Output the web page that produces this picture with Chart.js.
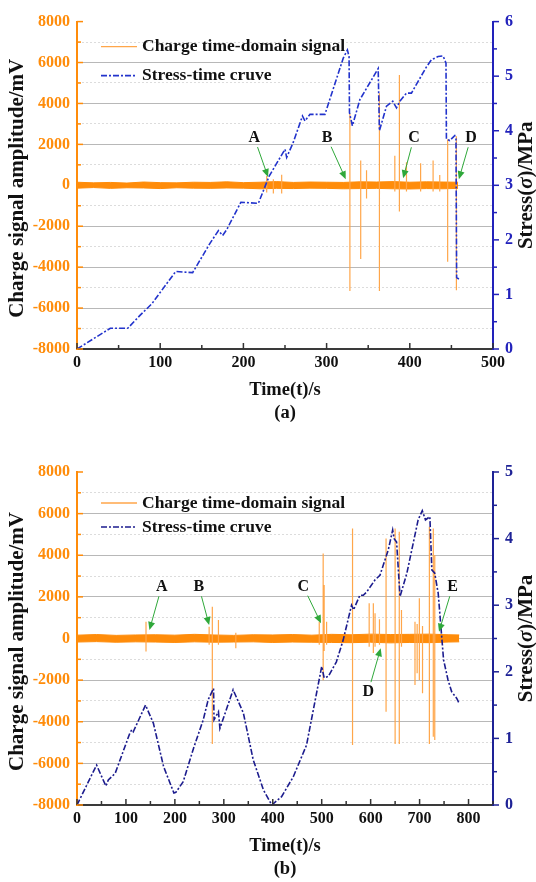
<!DOCTYPE html>
<html>
<head>
<meta charset="utf-8">
<title>Charge signal and stress vs time</title>
<script src="https://cdn.jsdelivr.net/npm/chart.js@4.4.0/dist/chart.umd.min.js"></script>
<style>
    html, body { margin: 0; padding: 0; background: #fff; }
    #wrap { position: relative; width: 536px; height: 882px; }
    canvas { position: absolute; left: 0; }
</style>
</head>
<body>
<div id="wrap">
    <canvas id="chartA" width="536" height="441" style="top:0"></canvas>
    <canvas id="chartB" width="536" height="441" style="top:441px"></canvas>
</div>
<script>
// ===== DATA (a) =====
const stressTimeA = [0, 40, 61, 76, 90, 118.6, 139, 160, 170, 175, 180, 197, 218, 231, 250, 252, 260, 271, 274, 280, 298,
    320, 325, 327, 327.5, 331, 340, 362, 363.5, 372, 379.5, 384, 388, 396, 402, 420, 426, 434, 440, 443.5, 444, 448, 454,
    455.5, 456.3, 459];
const stressValA = [0, 0.38, 0.38, 0.62, 0.83, 1.42, 1.40, 1.94, 2.17, 2.08, 2.19, 2.69, 2.67, 3.17, 3.66, 3.51, 3.79, 4.27,
    4.18, 4.30, 4.30, 5.33, 5.48, 5.36, 4.33, 4.09, 4.57, 5.14, 4.00, 4.45, 4.54, 4.42, 4.54, 4.69, 4.69, 5.17, 5.30, 5.36,
    5.37, 5.24, 3.85, 3.82, 3.91, 3.85, 1.31, 1.28];
const noiseTimeA = [0, 20, 40, 60, 80, 100, 120, 140, 160, 180, 200, 220, 240, 260, 280, 300, 320, 340, 360, 380, 400, 420, 440, 458];
const noiseHighA = [150, 120, 140, 110, 160, 130, 120, 150, 140, 170, 130, 150, 180, 140, 160, 150, 140, 170, 160, 180, 150, 170, 160, 150];
const noiseLowA = [-140, -110, -150, -120, -130, -160, -120, -140, -150, -130, -140, -170, -150, -160, -140, -150, -170, -160, -150, -170, -180, -160, -170, -150];
const spikeTimeA = [228, 236, 246, 328, 341, 348, 363.5, 382, 387.5, 396, 413, 428, 436, 445.5, 456];
const spikeHighA = [450, 300, 520, 3500, 1210, 730, 4500, 1450, 5390, 1130, 1080, 1210, 500, 2250, 2400];
const spikeLowA = [-350, -400, -400, -5170, -3600, -650, -5170, -300, -1280, -300, -300, -300, -300, -3740, -5130];
const markLetterA = ['A', 'B', 'C', 'D'];
const markLabelTimeA = [213, 300.5, 405, 473.5];
const markLabelValA = [2330, 2330, 2330, 2330];
const markTipTimeA = [229.6, 323, 392, 459];
const markTipValA = [410, 300, 350, 300];

// ===== DATA (b) =====
const stressTimeB = [0, 40, 59, 64, 78, 108, 112, 115, 140, 156, 177, 198, 202, 217, 238, 258, 268, 279, 280, 289, 292,
    319, 340, 360, 381, 398, 418, 442, 469, 500, 505, 513.5, 530, 544, 561, 565, 578, 585, 592, 609, 619, 636, 645, 648,
    653, 660, 674, 697, 705.5, 712, 721, 725, 731, 738, 749, 758, 765.6, 776, 780.6];
const stressValB = [0, 0.60, 0.285, 0.375, 0.475, 1.08, 1.13, 1.10, 1.50, 1.23, 0.575, 0.18, 0.19, 0.35, 0.85, 1.28, 1.58,
    1.75, 1.28, 1.40, 1.15, 1.73, 1.38, 0.68, 0.225, 0, 0.125, 0.425, 0.90, 2.08, 1.91, 1.93, 2.15, 2.48, 3.00, 2.93, 3.15,
    3.15, 3.20, 3.38, 3.45, 3.83, 4.13, 4.00, 3.95, 3.13, 3.48, 4.28, 4.42, 4.28, 4.33, 3.53, 3.48, 3.18, 2.18, 1.88, 1.70,
    1.60, 1.53];
const noiseTimeB = [0, 40, 80, 120, 160, 200, 240, 280, 320, 360, 400, 440, 480, 520, 560, 600, 640, 680, 720, 760, 781];
const noiseHighB = [160, 190, 150, 170, 180, 160, 200, 170, 150, 180, 170, 190, 160, 200, 180, 210, 190, 200, 210, 180, 170];
const noiseLowB = [-170, -150, -180, -160, -170, -190, -160, -180, -170, -160, -190, -170, -180, -190, -200, -180, -210, -190, -200, -170, -160];
const spikeTimeB = [141, 270, 276.5, 289, 324.5, 495, 503, 505, 510, 563, 597, 605.5, 609, 618, 631.5, 650, 658.5, 663,
    690.6, 695, 699.5, 706, 720, 728, 731];
const spikeHighB = [810, 570, 1530, 890, 280, 810, 4090, 2570, 810, 5290, 1690, 1690, 1210, 920, 4810, 5290, 5130, 1370,
    810, 700, 1930, 600, 5370, 5290, 4000];
const spikeLowB = [-630, -300, -5070, -300, -470, -300, -2000, -600, -300, -5120, -400, -700, -400, -300, -3520, -5070,
    -5070, -400, -2230, -1670, -1990, -2630, -5070, -4720, -4880];
const markLetterB = ['A', 'B', 'C', 'E', 'D'];
const markLabelTimeB = [173, 249, 462.5, 767.6, 595];
const markLabelValB = [2490, 2490, 2490, 2490, -2560];
const markTipTimeB = [148, 270, 498.6, 739.7, 620.5];
const markTipValB = [410, 650, 730, 330, -470];

(function () {
    'use strict';

    const SERIF = '"Liberation Serif", "Times New Roman", serif';
    const ORANGE = '#ff8c0a';
    const SPIKE = '#ffa64a';
    const GREEN = '#2fa83a';

    function toPoints(xs, ys) {
        return xs.map(function (x, i) { return { x: x, y: ys[i] }; });
    }

    // each spike: low -> high, then a null to break the line
    function spikePoints(ts, hi, lo) {
        const out = [];
        ts.forEach(function (t, i) {
            out.push({ x: t, y: lo[i] }, { x: t, y: hi[i] }, { x: t, y: null });
        });
        return out;
    }

    /**
     * Plugin: tick marks, legend, captions, letter marks with arrows
     */
    const decorPlugin = {
        id: 'decor',
        afterDraw: function (chart, args, opts) {
            const ctx = chart.ctx;
            const area = chart.chartArea;
            const xs = chart.scales.x, ys = chart.scales.y, y2 = chart.scales.y2;
            ctx.save();

            // tick marks
            ctx.lineWidth = 1.5;
            ctx.strokeStyle = '#333';
            xs.ticks.forEach(function (t) {
                const px = xs.getPixelForValue(t.value);
                const len = t.value % 100 === 0 ? 6 : 4;
                ctx.beginPath(); ctx.moveTo(px, area.bottom); ctx.lineTo(px, area.bottom - len); ctx.stroke();
            });
            ctx.strokeStyle = ORANGE;
            ys.ticks.forEach(function (t) {
                const py = ys.getPixelForValue(t.value);
                const len = t.value % 2000 === 0 ? 6 : 4;
                ctx.beginPath(); ctx.moveTo(area.left, py); ctx.lineTo(area.left + len, py); ctx.stroke();
            });
            ctx.strokeStyle = opts.blueAxis;
            y2.ticks.forEach(function (t) {
                const py = y2.getPixelForValue(t.value);
                const len = Number.isInteger(t.value) ? 6 : 4;
                ctx.beginPath(); ctx.moveTo(area.right, py); ctx.lineTo(area.right + len, py); ctx.stroke();
            });

            // legend
            const lx = area.left + 24;
            ctx.lineWidth = 1.3;
            ctx.strokeStyle = SPIKE;
            ctx.beginPath(); ctx.moveTo(lx, area.top + opts.legendRows[0]); ctx.lineTo(lx + 36, area.top + opts.legendRows[0]); ctx.stroke();
            ctx.strokeStyle = opts.blueLine;
            ctx.lineWidth = 1.6;
            ctx.setLineDash([6, 2, 2, 2]);
            ctx.beginPath(); ctx.moveTo(lx, area.top + opts.legendRows[1]); ctx.lineTo(lx + 36, area.top + opts.legendRows[1]); ctx.stroke();
            ctx.setLineDash([]);
            ctx.fillStyle = '#111';
            ctx.font = 'bold 17.5px ' + SERIF;
            ctx.textAlign = 'left';
            ctx.textBaseline = 'middle';
            ctx.fillText('Charge time-domain signal', lx + 41, area.top + opts.legendRows[0]);
            ctx.fillText('Stress-time cruve', lx + 41, area.top + opts.legendRows[1]);

            // letter marks + green arrows
            const m = opts.marks;
            ctx.font = 'bold 16px ' + SERIF;
            m.letters.forEach(function (letter, i) {
                const lxp = xs.getPixelForValue(m.labelT[i]), lyp = ys.getPixelForValue(m.labelV[i]);
                const tx = xs.getPixelForValue(m.tipT[i]), ty = ys.getPixelForValue(m.tipV[i]);
                ctx.fillStyle = '#111';
                ctx.textAlign = 'center';
                ctx.fillText(letter, lxp, lyp);
                const dx = tx - lxp, dy = ty - lyp, d = Math.sqrt(dx * dx + dy * dy);
                const ux = dx / d, uy = dy / d;
                const sx = lxp + ux * 10, sy = lyp + uy * 10;
                ctx.strokeStyle = GREEN;
                ctx.fillStyle = GREEN;
                ctx.lineWidth = 1;
                ctx.beginPath(); ctx.moveTo(sx, sy); ctx.lineTo(tx - ux * 6, ty - uy * 6); ctx.stroke();
                ctx.beginPath();
                ctx.moveTo(tx, ty);
                ctx.lineTo(tx - ux * 8 - uy * 3.5, ty - uy * 8 + ux * 3.5);
                ctx.lineTo(tx - ux * 8 + uy * 3.5, ty - uy * 8 - ux * 3.5);
                ctx.closePath(); ctx.fill();
            });

            // x title and panel caption
            const cx = (area.left + area.right) / 2;
            ctx.fillStyle = '#111';
            ctx.font = 'bold 18.5px ' + SERIF;
            ctx.textAlign = 'center';
            ctx.fillText('Time(t)/s', cx, area.bottom + 41);
            ctx.fillText(opts.caption, cx, area.bottom + 64);

            // left y title
            const cy = (area.top + area.bottom) / 2;
            ctx.font = 'bold 21px ' + SERIF;
            ctx.save();
            ctx.translate(18, cy + 3);
            ctx.rotate(-Math.PI / 2);
            ctx.fillText('Charge signal amplitude/mV', 0, 0);
            ctx.restore();

            // right y title with italic sigma
            ctx.save();
            ctx.translate(527, cy);
            ctx.rotate(-Math.PI / 2);
            const parts = [['Stress(', 'bold 21px '], ['σ', 'italic bold 21px '], [')/MPa', 'bold 21px ']];
            let total = 0;
            parts.forEach(function (p) { ctx.font = p[1] + SERIF; total += ctx.measureText(p[0]).width; });
            let px = -total / 2;
            ctx.textAlign = 'left';
            parts.forEach(function (p) {
                ctx.font = p[1] + SERIF;
                ctx.fillText(p[0], px, 0);
                px += ctx.measureText(p[0]).width;
            });
            ctx.restore();

            ctx.restore();
        }
    };

    function buildChart(canvasId, cfg) {
        const tickFont = { family: SERIF, size: 16, weight: 'bold' };
        return new Chart(document.getElementById(canvasId), {
            type: 'line',
            data: {
                datasets: [{
                    label: 'Stress-time cruve',
                    data: toPoints(cfg.stressT, cfg.stressV),
                    yAxisID: 'y2',
                    borderColor: cfg.blueLine,
                    borderWidth: 1.6,
                    borderDash: [6, 2, 2, 2],
                    pointRadius: 0,
                    tension: 0,
                    order: 0
                }, {
                    label: 'spikes',
                    data: spikePoints(cfg.spikeT, cfg.spikeHi, cfg.spikeLo),
                    yAxisID: 'y',
                    borderColor: SPIKE,
                    borderWidth: 1.2,
                    pointRadius: 0,
                    spanGaps: false,
                    order: 1
                }, {
                    label: 'noise high',
                    data: toPoints(cfg.noiseT, cfg.noiseHi),
                    yAxisID: 'y',
                    borderColor: ORANGE,
                    backgroundColor: ORANGE,
                    borderWidth: 1,
                    pointRadius: 0,
                    fill: '+1',
                    order: 2
                }, {
                    label: 'noise low',
                    data: toPoints(cfg.noiseT, cfg.noiseLo),
                    yAxisID: 'y',
                    borderColor: ORANGE,
                    borderWidth: 1,
                    pointRadius: 0,
                    fill: false,
                    order: 2
                }]
            },
            options: {
                responsive: false,
                animation: false,
                events: [],
                layout: { padding: { top: cfg.padTop, left: 0, right: 0, bottom: 0 } },
                plugins: {
                    legend: { display: false },
                    tooltip: { enabled: false },
                    decor: {
                        legendRows: cfg.legendRows,
                        blueLine: cfg.blueLine,
                        blueAxis: cfg.blueAxis,
                        caption: cfg.caption,
                        marks: cfg.marks
                    }
                },
                scales: {
                    x: {
                        type: 'linear',
                        min: 0,
                        max: cfg.xMax,
                        afterFit: function (s) { s.height = cfg.xAxisHeight; },
                        ticks: {
                            stepSize: 50,
                            autoSkip: false,
                            maxRotation: 0,
                            padding: 4,
                            color: '#111',
                            font: tickFont,
                            callback: function (v) { return v % 100 === 0 ? String(v) : ''; }
                        },
                        grid: { display: true, drawOnChartArea: false, drawTicks: false },
                        border: { color: '#3a3a3a', width: 2 }
                    },
                    y: {
                        position: 'left',
                        min: -8000,
                        max: 8000,
                        afterFit: function (s) { s.width = 77; },
                        ticks: {
                            stepSize: 1000,
                            autoSkip: false,
                            padding: 7,
                            color: ORANGE,
                            font: tickFont,
                            callback: function (v) { return v % 2000 === 0 ? String(v) : ''; }
                        },
                        grid: {
                            drawTicks: false,
                            lineWidth: 1,
                            color: function (c) {
                                if (!c.tick) return '#b5b5b5';
                                const v = c.tick.value;
                                if (v === 8000 || v === -8000) return 'rgba(0,0,0,0)';
                                return Math.abs(v) % 2000 === 1000 ? '#dcdcdc' : '#b8b8b8';
                            }
                        },
                        border: {
                            color: ORANGE,
                            width: 2,
                            dash: function (c) {
                                return c.tick && Math.abs(c.tick.value) % 2000 === 1000 ? [2, 2] : [];
                            }
                        }
                    },
                    y2: {
                        position: 'right',
                        min: 0,
                        max: cfg.stressMax,
                        afterFit: function (s) { s.width = 43; },
                        ticks: {
                            stepSize: 0.5,
                            autoSkip: false,
                            padding: 12,
                            color: cfg.blueAxis,
                            font: tickFont,
                            callback: function (v) { return Number.isInteger(v) ? String(v) : ''; }
                        },
                        grid: { drawOnChartArea: false, drawTicks: false },
                        border: { color: cfg.blueAxis, width: 2 }
                    }
                }
            },
            plugins: [decorPlugin]
        });
    }

    buildChart('chartA', {
        stressT: stressTimeA, stressV: stressValA,
        noiseT: noiseTimeA, noiseHi: noiseHighA, noiseLo: noiseLowA,
        spikeT: spikeTimeA, spikeHi: spikeHighA, spikeLo: spikeLowA,
        marks: { letters: markLetterA, labelT: markLabelTimeA, labelV: markLabelValA, tipT: markTipTimeA, tipV: markTipValA },
        xMax: 500, stressMax: 6,
        padTop: 18, xAxisHeight: 92,
        legendRows: [25, 54],
        blueLine: '#2233cc', blueAxis: '#2222bb',
        caption: '(a)'
    });

    buildChart('chartB', {
        stressT: stressTimeB, stressV: stressValB,
        noiseT: noiseTimeB, noiseHi: noiseHighB, noiseLo: noiseLowB,
        spikeT: spikeTimeB, spikeHi: spikeHighB, spikeLo: spikeLowB,
        marks: { letters: markLetterB, labelT: markLabelTimeB, labelV: markLabelValB, tipT: markTipTimeB, tipV: markTipValB },
        xMax: 850, stressMax: 5,
        padTop: 31, xAxisHeight: 77,
        legendRows: [31, 55],
        blueLine: '#1c1c8e', blueAxis: '#1e2296',
        caption: '(b)'
    });
})();
</script>
</body>
</html>
